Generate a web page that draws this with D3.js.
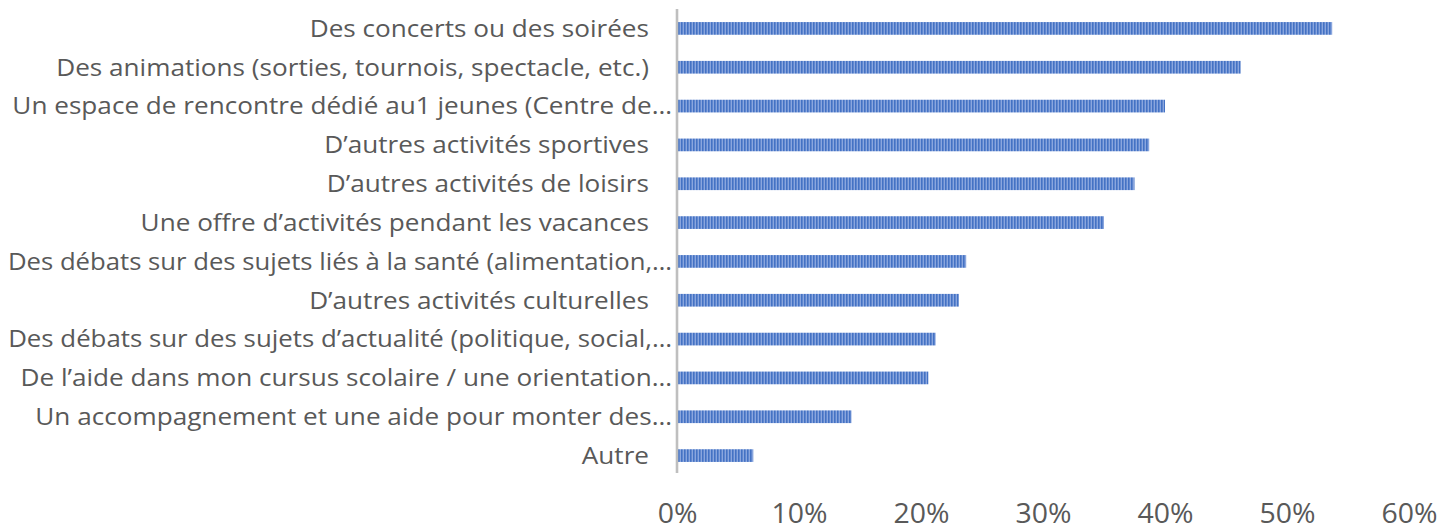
<!DOCTYPE html>
<html>
<head>
<meta charset="utf-8">
<title>Activités souhaitées</title>
<style>
  body { margin: 0; background: #fff; }
  svg text { font-family: "Open Sans", sans-serif; fill: #595959; }
</style>
</head>
<body>
<svg id="chart" width="1454" height="530"></svg>
<script src="https://cdn.jsdelivr.net/npm/d3@7"></script>
<script>
  const categories = [
    "Des concerts ou des soirées",
    "Des animations (sorties, tournois, spectacle, etc.)",
    "Un espace de rencontre dédié au1 jeunes (Centre de…",
    "D’autres activités sportives",
    "D’autres activités de loisirs",
    "Une offre d’activités pendant les vacances",
    "Des débats sur des sujets liés à la santé (alimentation,…",
    "D’autres activités culturelles",
    "Des débats sur des sujets d’actualité (politique, social,…",
    "De l’aide dans mon cursus scolaire / une orientation…",
    "Un accompagnement et une aide pour monter des…",
    "Autre"
  ];
  const values = [0.537, 0.462, 0.400, 0.387, 0.375, 0.350, 0.237, 0.231, 0.212, 0.206, 0.143, 0.0625];
  const xTicks = [0, 0.1, 0.2, 0.3, 0.4, 0.5, 0.6];

  const svg = d3.select("#chart");

  // stripe pattern like the excel fill
  const pat = svg.append("defs").append("pattern")
      .attr("id", "stripes")
      .attr("patternUnits", "userSpaceOnUse")
      .attr("width", 3).attr("height", 10);
  pat.append("rect").attr("width", 3).attr("height", 10).attr("fill", "#8aa6de");
  pat.append("rect").attr("width", 1.6).attr("height", 10).attr("fill", "#4472c4");

  const x = d3.scaleLinear().domain([0, 0.6]).range([677, 1409]);
  const y = d3.scaleBand().domain(categories).range([9, 475])
      .paddingInner(0.673).paddingOuter(0.3365);

  svg.append("g").selectAll("rect")
      .data(values)
      .join("rect")
      .attr("x", x(0))
      .attr("y", (d, i) => y(categories[i]))
      .attr("width", d => x(d) - x(0))
      .attr("height", y.bandwidth())
      .attr("fill", "url(#stripes)");

  // vertical axis line
  svg.append("line")
      .attr("x1", x(0)).attr("x2", x(0))
      .attr("y1", y.range()[0]).attr("y2", y.range()[1] - 2)
      .attr("stroke", "#bfbfbf").attr("stroke-width", 2.6);

  // category labels (narrowed to mimic Calibri widths)
  const labels = svg.append("g").style("font-size", "23.4px");
  const probe = labels.append("text").text(categories[1]);
  const fCat = 593 / probe.node().getComputedTextLength();
  probe.remove();

  labels.selectAll("text")
      .data(categories)
      .join("text")
      .attr("text-anchor", "end")
      .text(d => d)
      .attr("transform", function(d) {
        const xr = d.endsWith("…") ? 672 : 649;
        const yb = y(d) + y.bandwidth() / 2 + 8.3;
        const w = this.getComputedTextLength();
        const f = Math.min(fCat, (xr - 8) / w);
        return "translate(" + xr + "," + yb + ") scale(" + f + ",1)";
      });

  // bottom tick labels
  const xAxis = svg.append("g")
      .attr("transform", "translate(0,523)")
      .call(d3.axisBottom(x).tickValues(xTicks).tickFormat(d3.format(".0%")).tickSize(0).tickPadding(0));
  xAxis.select(".domain").remove();
  xAxis.selectAll("text")
      .style("font-family", "Open Sans, sans-serif")
      .style("font-size", "27.5px")
      .attr("fill", "#595959")
      .attr("y", 0).attr("dy", 0);
  const w60 = xAxis.selectAll("text").nodes()[6].getComputedTextLength();
  const fTick = 56 / w60;
  xAxis.selectAll("text").attr("transform", "scale(" + fTick + ",1)");
</script>
</body>
</html>
